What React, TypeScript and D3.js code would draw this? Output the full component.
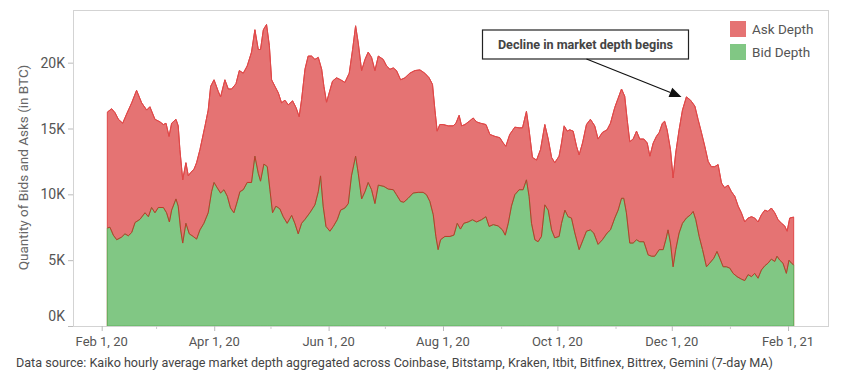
import React from 'react';
import * as d3 from 'd3';

// Day offsets are measured from Feb 1, 2020 (UTC); values are in thousands of BTC.
const START = Date.UTC(2020, 1, 1);
const DAY = 864e5;

// Top of the stack (Bid + Ask)
const totalDays = [
  3.0, 5.3, 7.1, 8.9, 11.2, 13.3, 16.0, 18.6, 21.3, 24.0, 25.7, 28.4, 31.1, 32.9, 34.3, 35.9, 37.3, 39.6, 40.8, 41.7,
  43.2, 44.9, 46.2, 47.4, 49.2, 50.6, 52.4, 55.1, 56.8, 58.1, 59.9, 62.2, 63.4, 65.7, 67.5, 69.3, 71.6, 73.4,
  75.5, 77.6, 79.9, 81.7, 83.5, 84.7, 86.2, 87.9, 89.4, 90.6, 92.4, 94.2, 95.9, 97.7, 99.5, 101.8, 103.6, 105.3, 106.6, 108.4,
  110.1, 111.9, 113.7, 115.5, 117.3, 118.5, 119.9, 121.3, 123.1, 125.2, 127.4, 129.7, 132.0, 133.8, 135.4, 136.8, 138.6, 140.4,
  142.1, 143.9, 145.7, 147.5,
  150.1, 151.9, 153.7, 155.5, 157.2, 159.4, 161.7, 164.3, 167.0, 169.7, 172.3, 174.6, 176.4, 177.7, 178.9, 180.3, 182.1, 184.8,
  187.4, 188.9, 190.6, 191.9, 193.7, 196.0, 198.1, 199.9, 202.0, 204.9, 207.0, 209.7, 212.3, 214.1, 215.5, 217.6, 220.3, 222.6,
  224.4, 226.5, 227.9, 229.7, 231.9, 234.0, 236.3, 238.1, 239.9, 241.6, 243.9, 245.2, 246.6, 248.2, 249.6, 251.4, 253.2, 254.6,
  256.4, 258.5, 260.6, 262.9, 264.7, 267.0, 269.5, 271.3, 273.6, 275.4, 277.2, 278.9, 280.2, 281.6, 283.4, 285.2, 286.9, 289.1,
  290.9, 292.3, 294.1, 295.8, 297.3,
  299.0, 300.2, 301.5, 303.3, 304.7, 306.1, 307.9, 309.7, 311.8, 314.0, 316.3, 318.0, 319.8, 321.6, 323.4, 325.1, 326.9, 328.7,
  330.5, 332.2, 334.0, 335.8, 337.6, 339.4, 341.1, 342.9, 344.7, 346.5, 348.2, 350.0, 351.8, 353.6, 355.3, 357.1, 358.9, 360.7,
  362.5, 364.2, 365.5, 366.9, 369.0,
];
const totalDepthK = [
  16.24, 16.5, 16.2, 15.7, 15.4, 16.1, 16.95, 17.9, 16.95, 16.4, 16.65, 15.7, 15.5, 15.3, 15.4, 14.4, 15.4, 15.7, 15.2, 13.4,
  11.1, 12.4, 11.4, 11.65, 11.9, 12.4, 13.4, 15.2, 16.4, 18.2, 18.7, 17.8, 17.4, 18.7, 18.0, 18.0, 18.4, 19.4,
  19.2, 19.75, 20.8, 22.5, 21.0, 21.0, 22.5, 22.9, 21.3, 18.7, 18.2, 17.7, 16.95, 17.15, 16.8, 17.1, 16.6, 15.9, 17.2, 19.5,
  20.5, 20.5, 20.25, 20.4, 19.5, 18.2, 17.0, 17.7, 18.6, 18.85, 18.7, 18.5, 19.2, 21.0, 22.8, 21.5, 19.4, 20.25,
  20.8, 20.4, 19.4, 20.5,
  20.25, 19.75, 19.5, 19.6, 19.4, 18.7, 18.85, 19.2, 19.4, 19.45, 19.2, 18.85, 18.35, 16.4, 14.8, 15.3, 15.3, 15.2,
  15.2, 15.4, 16.0, 15.2, 15.3, 15.55, 15.8, 15.5, 15.4, 15.3, 14.55, 14.4, 14.3, 13.9, 13.65, 14.55, 15.1, 15.05,
  15.05, 16.3, 14.9, 12.8, 12.6, 13.4, 15.3, 14.2, 12.8, 12.4, 12.9, 13.9, 15.2, 14.8, 14.9, 14.8, 13.65, 13.0,
  13.9, 15.3, 15.7, 15.2, 14.2, 14.7, 14.9, 15.4, 16.6, 17.3, 18.0, 17.45, 15.7, 14.0, 14.2, 14.8, 14.2, 14.2,
  13.9, 12.9, 13.9, 14.4, 14.7,
  15.4, 15.55, 14.9, 13.4, 11.25, 13.15, 14.9, 16.4, 17.4, 17.15, 16.7, 15.7, 14.7, 13.65, 12.5, 12.1, 12.1, 12.26,
  10.86, 10.5, 10.7, 10.2, 9.85, 9.1, 8.6, 7.9, 8.2, 8.3, 8.2, 7.9, 8.45, 8.8, 8.7, 8.96, 8.6, 8.07,
  7.8, 7.6, 7.2, 8.2, 8.27,
];

// Bid depth (bottom of the stack)
const bidDays = [
  3.0, 4.4, 6.2, 8.0, 10.6, 12.4, 14.2, 16.0, 17.8, 20.4, 23.1, 24.9, 26.6, 28.4, 30.2, 32.9, 34.6, 36.1, 37.3, 39.6,
  40.8, 42.1, 43.2, 44.9, 46.7, 48.8, 50.6, 52.4, 54.5, 56.8, 58.6, 59.9, 61.6, 63.4, 65.2, 67.0, 68.7, 70.5, 72.3, 73.7,
  75.5, 77.6, 79.9, 81.7, 83.5, 84.7, 86.5, 88.3, 89.7, 91.1, 92.9, 95.0, 96.8, 98.9, 101.3, 103.0, 104.8, 106.6, 108.4, 111.0,
  113.7, 115.5, 116.7, 118.1, 119.6, 121.7, 123.5, 125.6, 127.4, 129.7, 131.5, 133.2, 135.4, 136.8, 138.6, 140.4, 142.1, 143.9,
  145.7, 147.5,
  150.5, 152.8, 155.5, 157.2, 159.4, 161.1, 163.4, 166.1, 168.8, 171.4, 173.2, 175.0, 176.8, 178.2, 179.4, 180.7, 183.0, 185.7,
  187.8, 189.6, 191.3, 193.1, 195.4, 197.7, 199.9, 202.5, 204.9, 206.6, 208.8, 211.4, 213.7, 215.2, 216.8, 218.5, 220.3, 222.6,
  224.7, 226.5, 227.9, 229.2, 231.0, 232.7, 234.5, 236.3, 238.1, 239.9, 241.6, 243.9, 245.2, 247.0, 248.7, 250.5, 252.3, 254.6,
  256.7, 258.5, 260.6, 262.4, 264.7, 267.0, 269.5, 271.3, 273.6, 275.4, 277.2, 278.4, 279.8, 281.6, 283.4, 285.2, 286.9, 289.1,
  291.4, 293.2, 294.9, 297.3,
  299.4, 300.8, 302.0, 303.3, 304.7, 306.1, 307.9, 309.7, 311.8, 314.0, 315.4, 316.8, 318.6, 320.4, 322.5, 324.2, 326.4, 328.1,
  329.6, 331.4, 333.1, 334.9, 336.7, 338.8, 341.1, 342.9, 344.7, 346.5, 348.2, 350.0, 351.8, 353.6, 355.3, 357.1, 358.9, 360.1,
  361.6, 363.3, 365.1, 366.5, 367.8, 369.0,
];
const bidDepthK = [
  7.44, 7.5, 6.9, 6.55, 6.75, 7.0, 6.85, 7.1, 7.86, 8.1, 8.6, 8.3, 9.0, 8.6, 9.0, 9.0, 8.6, 7.9, 8.8, 9.65,
  9.1, 7.3, 6.3, 7.8, 7.0, 6.8, 6.6, 7.3, 7.8, 8.6, 10.2, 10.9, 10.5, 10.1, 10.35, 9.85, 8.96, 8.6, 9.46, 10.2,
  10.35, 10.9, 10.9, 12.9, 11.6, 11.0, 12.3, 12.1, 10.35, 8.6, 9.1, 8.9, 8.3, 7.8, 8.4, 7.8, 7.0, 7.8, 8.1, 8.6,
  9.2, 10.2, 11.4, 9.1, 7.56, 7.2, 7.56, 8.07, 8.8, 8.96, 9.3, 11.4, 12.9, 11.6, 9.65, 10.2, 10.9, 10.35,
  9.3, 10.7,
  10.6, 10.4, 10.35, 9.97, 9.46, 9.4, 9.7, 10.1, 10.15, 10.15, 9.97, 9.46, 8.45, 6.8, 5.8, 6.55, 6.8, 6.8,
  6.9, 7.8, 7.36, 7.8, 7.9, 8.07, 7.9, 8.07, 8.3, 7.56, 7.7, 7.6, 7.3, 6.9, 7.8, 9.1, 9.97, 10.35,
  10.35, 11.1, 9.85, 7.8, 6.55, 6.4, 6.8, 9.2, 8.8, 7.3, 6.7, 6.8, 7.8, 8.8, 8.3, 8.2, 7.06, 5.8,
  6.55, 7.2, 7.3, 7.06, 6.2, 6.55, 7.06, 7.3, 8.2, 8.8, 9.7, 9.7, 8.6, 6.3, 6.3, 6.55, 6.4, 6.4,
  5.4, 5.3, 5.3, 5.8,
  5.8, 6.55, 7.3, 6.3, 4.5, 5.8, 7.06, 7.8, 8.2, 8.45, 8.7, 8.07, 6.8, 5.8, 4.5, 4.77, 5.15, 5.66,
  5.15, 4.5, 4.5, 4.4, 4.0, 3.75, 3.56, 3.45, 3.9, 3.75, 4.0, 3.63, 4.26, 4.57, 4.77, 5.08, 4.9, 5.3,
  5.0, 4.77, 4.0, 5.0, 4.77, 4.64,
];

const yTicks = [0, 5, 10, 15, 20];
const seriesNames = ['Ask Depth', 'Bid Depth'];
const seriesColors = ['#e57373', '#81c784'];
const annotationText = 'Decline in market depth begins';
const annotationPoint = { day: 309.2, valueK: 17.4 };
const yTitle = 'Quantity of Bids and Asks (in BTC)';
const caption =
  'Data source: Kaiko hourly average market depth aggregated across Coinbase, Bitstamp, Kraken, Itbit, Bitfinex, Bittrex, Gemini (7-day MA)';

const toDate = (d: number) => new Date(START + d * DAY);

export default function App() {
  const W = 847;
  const H = 375;
  const P = { l: 73, r: 828, t: 10, b: 326 };
  const font = 'Roboto, "Noto Sans", sans-serif';

  const x = d3
    .scaleUtc()
    .domain([toDate(-15.3), toDate(387.3)])
    .range([P.l, P.r]);
  const y = d3.scaleLinear().domain([0, 24]).range([P.b, P.t]);

  const totalPts = totalDays.map((d, i) => [toDate(d), totalDepthK[i]] as [Date, number]);
  const bidPts = bidDays.map((d, i) => [toDate(d), bidDepthK[i]] as [Date, number]);

  const area = d3
    .area<[Date, number]>()
    .x((p) => x(p[0]))
    .y0(y(0))
    .y1((p) => y(p[1]));
  const line = d3
    .line<[Date, number]>()
    .x((p) => x(p[0]))
    .y((p) => y(p[1]));

  const months = d3.utcMonth.range(toDate(-15.3), toDate(387.3));
  const major = months.filter((m) => m.getUTCMonth() % 2 === 1);
  const minor = months.filter((m) => m.getUTCMonth() % 2 === 0);
  const fmt = d3.utcFormat('%b %-d, %y');

  const tipX = x(toDate(annotationPoint.day));
  const tipY = y(annotationPoint.valueK);
  const box = { x: 482.5, y: 30, w: 206, h: 29 };
  const sx = 586.5;
  const sy = box.y + box.h;
  const ang = Math.atan2(tipY - sy, tipX - sx);
  const hl = 12;
  const hw = 5;
  const bx = tipX - hl * Math.cos(ang);
  const by = tipY - hl * Math.sin(ang);
  const head = [
    [tipX, tipY],
    [bx + hw * Math.sin(ang), by - hw * Math.cos(ang)],
    [bx - hw * Math.sin(ang), by + hw * Math.cos(ang)],
  ];

  return (
    <svg
      width={W}
      height={H}
      style={{ position: 'absolute', left: 0, top: 0, background: '#fff' }}
      fontFamily={font}
    >
      <rect x={0} y={0} width={W} height={H} fill="#fff" />
      {/* areas */}
      <path d={area(totalPts) || ''} fill={seriesColors[0]} stroke="#e04848" strokeWidth={1} />
      <path d={area(bidPts) || ''} fill={seriesColors[1]} stroke="#5fb35f" strokeWidth={1} />
      <path d={line(bidPts) || ''} fill="none" stroke="#c0392b" strokeWidth={1} />
      <path d={line(totalPts) || ''} fill="none" stroke="#e04848" strokeWidth={1} />

      {/* frame */}
      <rect x={P.l + 0.5} y={P.t + 0.5} width={P.r - P.l} height={P.b - P.t} fill="none" stroke="#d3d3d3" />

      {/* y axis */}
      {yTicks.map((t) => (
        <g key={t}>
          <line x1={P.l - 5} x2={P.l} y1={y(t) + 0.5} y2={y(t) + 0.5} stroke="#bbb" />
          <text
            x={P.l - 8}
            y={t === 0 ? y(t) - 5 : y(t) + 5}
            textAnchor="end"
            fontSize={14}
            fill="#555"
          >
            {t}K
          </text>
        </g>
      ))}
      <text
        transform={`translate(28, 167.5) rotate(-90)`}
        textAnchor="middle"
        fontSize={13.5}
        fill="#666"
      >
        {yTitle}
      </text>

      {/* x axis */}
      {minor.map((m) => (
        <line key={'m' + m.getTime()} x1={x(m) + 0.5} x2={x(m) + 0.5} y1={P.b} y2={P.b + 3} stroke="#ccc" />
      ))}
      {major.map((m) => (
        <g key={'M' + m.getTime()}>
          <line x1={x(m) + 0.5} x2={x(m) + 0.5} y1={P.b} y2={P.b + 5} stroke="#bbb" />
          <text x={x(m)} y={345.5} textAnchor="middle" fontSize={13} fill="#555">
            {fmt(m)}
          </text>
        </g>
      ))}

      {/* legend */}
      {seriesNames.map((n, i) => (
        <g key={n}>
          <rect x={730} y={21 + i * 23} width={16} height={16} fill={seriesColors[i]} />
          <text x={752} y={34 + i * 23} fontSize={13.5} fill="#555">
            {n}
          </text>
        </g>
      ))}

      {/* annotation */}
      <rect x={box.x} y={box.y} width={box.w} height={box.h} fill="#fff" stroke="#222" strokeWidth={1.2} />
      <text
        x={box.x + box.w / 2}
        y={48.5}
        textAnchor="middle"
        fontSize={12.6}
        fontWeight="bold"
        fill="#444"
      >
        {annotationText}
      </text>
      <line x1={sx} y1={sy} x2={bx} y2={by} stroke="#111" strokeWidth={1.2} />
      <polygon points={head.map((p) => p.join(',')).join(' ')} fill="#111" />

      {/* caption */}
      <text x={16} y={367} fontSize={12.6} fill="#444">
        {caption}
      </text>
    </svg>
  );
}
